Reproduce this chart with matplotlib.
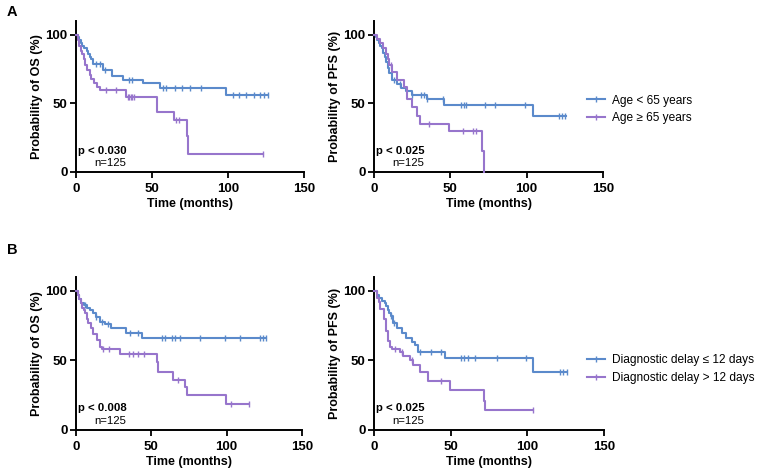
import numpy as np
import matplotlib
matplotlib.use("Agg")
import matplotlib.pyplot as plt
from matplotlib.lines import Line2D

plt.rcParams['font.family'] = ['Liberation Sans', 'DejaVu Sans']

# ---------------- data (months, survival %) ----------------
# Panel A: age
a_os_blue_t = [0, 1, 2, 3, 4, 5, 7, 8, 9, 10, 11, 18, 24, 31, 44, 55, 99]
a_os_blue_s = [100, 98, 96, 94, 92, 90, 88, 86, 84, 82, 79, 74, 70, 67, 65, 61, 56]
a_os_blue_end = 126
a_os_blue_c = [13, 16, 19, 35, 37, 57, 59, 65, 70, 75, 82, 103, 107, 112, 117, 121, 124, 126]

a_os_purp_t = [0, 1, 2, 3, 4, 5, 6, 7, 9, 10, 12, 14, 16, 33, 53.5, 64.5, 73, 74]
a_os_purp_s = [100, 96, 92, 88, 86, 82, 78, 74, 71, 68, 65, 62, 60, 55, 44, 38, 26, 13]
a_os_purp_end = 123
a_os_purp_c = [20, 26, 34, 35, 36, 37, 38, 66, 68, 123]

a_pfs_blue_t = [0, 1, 2, 3, 4, 5, 6, 7, 8, 9, 10, 12, 15, 18, 21, 25, 35, 46, 104]
a_pfs_blue_s = [100, 98, 96, 94, 92, 90, 87, 84, 80, 76, 72, 67, 64, 61, 59, 56, 53, 49, 41]
a_pfs_blue_end = 126
a_pfs_blue_c = [13, 17, 25, 31, 33, 35, 45, 57, 59, 60, 73, 79, 99, 121, 123, 125]

a_pfs_purp_t = [0, 2, 4, 6, 8, 9, 10, 12, 15, 19.5, 21.5, 25, 28, 30, 49, 70.7, 72]
a_pfs_purp_s = [100, 97, 94, 90, 86, 82, 78, 73, 67, 62, 53, 47, 41, 35, 30, 15, 0]
a_pfs_purp_end = 72
a_pfs_purp_c = [11, 36, 58, 65, 67]

# Panel B: diagnostic delay
b_os_blue_t = [0, 1, 2, 3, 5, 7, 9, 11, 13, 16, 19, 23, 33, 44]
b_os_blue_s = [100, 97, 94, 91, 90, 88, 86, 84, 81, 78, 76, 73, 70, 66]
b_os_blue_end = 126
b_os_blue_c = [6, 13, 17, 21, 36, 41, 57, 59, 64, 66, 69, 82, 99, 109, 122, 124, 126]

b_os_purp_t = [0, 1, 2, 3, 4, 5, 6, 7, 8, 10, 11.5, 13.7, 16, 17, 29, 53.5, 54.6, 64.6, 72.3, 73.9, 99.3]
b_os_purp_s = [100, 97, 94, 91, 88, 86, 84, 80, 77, 73, 69, 65, 60, 58, 55, 49, 42, 36, 31, 25, 19]
b_os_purp_end = 115
b_os_purp_c = [18, 22, 35, 38, 41, 45, 68, 103, 115]

b_pfs_blue_t = [0, 2, 3, 5, 7, 8, 9, 10, 11, 12.6, 15, 18, 21, 24.5, 27, 29, 46, 104]
b_pfs_blue_s = [100, 97, 95, 93, 91, 89, 86, 84, 82, 77, 73, 70, 66, 63, 61, 56, 52, 42]
b_pfs_blue_end = 126
b_pfs_blue_c = [11, 13, 30, 37, 44, 57, 58.5, 61, 66, 80, 99, 121, 123, 126]

b_pfs_purp_t = [0, 2, 3, 4, 6.5, 8, 9, 10.4, 11.5, 17, 19, 23.4, 25.3, 30, 35.4, 49.5, 71.6, 72.7]
b_pfs_purp_s = [100, 95, 92, 87, 80, 71, 64, 60, 58, 56, 53, 50, 47, 42, 35, 28.5, 20.5, 14.5]
b_pfs_purp_end = 104
b_pfs_purp_c = [14, 18, 25, 44, 104]

p_values = ["p < 0.030", "p < 0.025", "p < 0.008", "p < 0.025"]
n_label = "n=125"
y_labels = ["Probability of OS (%)", "Probability of PFS (%)",
            "Probability of OS (%)", "Probability of PFS (%)"]
x_label = "Time (months)"
legend_a = ["Age < 65 years", "Age \u2265 65 years"]
legend_b = ["Diagnostic delay \u2264 12 days", "Diagnostic delay > 12 days"]
x_ticks = [0, 50, 100, 150]
y_ticks = [0, 50, 100]

BLUE = "#5B8ACB"
PURPLE = "#9775CC"

W, H = 760, 474
fig = plt.figure(figsize=(W / 100, H / 100), dpi=100)


def px_axes(x0, x1, ytop, ybot):
    return fig.add_axes([x0 / W, 1 - ybot / H, (x1 - x0) / W, (ybot - ytop) / H])


def km(ax, t, s, end, cens, color):
    tt = list(t) + [end]
    ss = list(s) + [s[-1]]
    ax.step(tt, ss, where='post', color=color, lw=1.5, clip_on=False, zorder=3)
    ta = np.asarray(t, float)
    sa = np.asarray(s, float)
    idx = np.searchsorted(ta, np.asarray(cens, float), side='right') - 1
    ax.plot(cens, sa[idx], ls='none', marker='|', ms=4.5, mew=1.0,
            color=color, clip_on=False, zorder=4)


def style(ax, ylabel, ptxt):
    ax.set_xlim(0, 150)
    ax.set_ylim(0, 110)
    for sp in ['top', 'right']:
        ax.spines[sp].set_visible(False)
    for sp in ['left', 'bottom']:
        ax.spines[sp].set_linewidth(1.4)
    ax.set_xticks(x_ticks)
    ax.set_yticks(y_ticks)
    ax.tick_params(direction='out', length=4, width=1.3, labelsize=9.5)
    ax.tick_params(axis='x', pad=4)
    ax.tick_params(axis='y', pad=2)
    for lab in ax.get_xticklabels() + ax.get_yticklabels():
        lab.set_fontweight('bold')
    ax.set_ylabel(ylabel, fontsize=9, fontweight='bold', labelpad=2)
    ax.set_xlabel(x_label, fontsize=9, fontweight='bold', labelpad=2)
    ax.text(1.5, 15.5, ptxt, fontsize=8.2, fontweight='bold', ha='left', va='center')
    ax.text(33, 6.3, n_label, fontsize=8.2, ha='right', va='center')


axA1 = px_axes(76, 304, 21, 172)
axA2 = px_axes(374, 603, 21, 172)
axB1 = px_axes(76, 302, 277, 430)
axB2 = px_axes(374, 604, 277, 430)

km(axA1, a_os_blue_t, a_os_blue_s, a_os_blue_end, a_os_blue_c, BLUE)
km(axA1, a_os_purp_t, a_os_purp_s, a_os_purp_end, a_os_purp_c, PURPLE)
km(axA2, a_pfs_blue_t, a_pfs_blue_s, a_pfs_blue_end, a_pfs_blue_c, BLUE)
km(axA2, a_pfs_purp_t, a_pfs_purp_s, a_pfs_purp_end, a_pfs_purp_c, PURPLE)
km(axB1, b_os_blue_t, b_os_blue_s, b_os_blue_end, b_os_blue_c, BLUE)
km(axB1, b_os_purp_t, b_os_purp_s, b_os_purp_end, b_os_purp_c, PURPLE)
km(axB2, b_pfs_blue_t, b_pfs_blue_s, b_pfs_blue_end, b_pfs_blue_c, BLUE)
km(axB2, b_pfs_purp_t, b_pfs_purp_s, b_pfs_purp_end, b_pfs_purp_c, PURPLE)

for ax, yl, pt in zip([axA1, axA2, axB1, axB2], y_labels, p_values):
    style(ax, yl, pt)


def legend_handles():
    return [Line2D([0], [0], color=c, lw=1.5, marker='|', ms=5, mew=1.0)
            for c in (BLUE, PURPLE)]


leg_kw = dict(loc='center left', frameon=False, fontsize=8.6, handlelength=1.5,
              handletextpad=0.6, labelspacing=0.5, borderaxespad=0, borderpad=0)
axA2.legend(legend_handles(), legend_a,
            bbox_to_anchor=((587 - 374) / 229, (172 - 109.5) / 151), **leg_kw)
axB2.legend(legend_handles(), legend_b,
            bbox_to_anchor=((587 - 374) / 230, (430 - 369) / 153), **leg_kw)

fig.text(7 / W, 1 - 12 / H, "A", fontsize=10.5, fontweight='bold', ha='left', va='center')
fig.text(7 / W, 1 - 250 / H, "B", fontsize=10.5, fontweight='bold', ha='left', va='center')

fig.savefig("out.png", dpi=100)
